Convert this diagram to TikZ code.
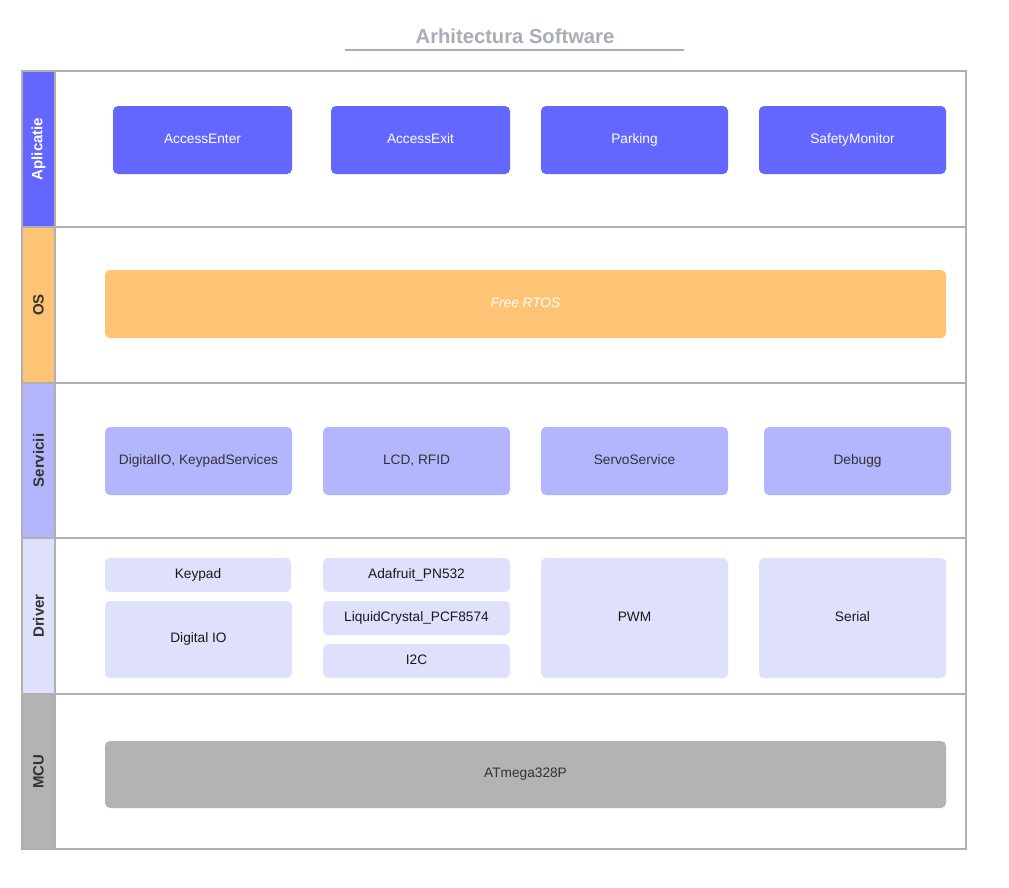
\documentclass[tikz,border=0pt]{standalone}
\usepackage{fontspec}
\setmainfont{Liberation Sans}
\begin{document}
\definecolor{appblue}{HTML}{6366FF}
\definecolor{osorange}{HTML}{FDC476}
\definecolor{srvlilac}{HTML}{B3B5FD}
\definecolor{drvlilac}{HTML}{DFE0FC}
\definecolor{mcugray}{HTML}{B3B3B3}
\definecolor{framegray}{HTML}{B0B0B0}
\definecolor{titlegray}{HTML}{A9ADB5}
\definecolor{textdark}{HTML}{333333}
\begin{tikzpicture}[x=1pt,y=-1pt,
  box/.style={rectangle,rounded corners=5pt,inner sep=0pt,outer sep=0pt,
    text height=9.8pt,text depth=3.6pt,
    font=\fontsize{13.7}{15}\selectfont},
  appbox/.style={box,fill=appblue,text=white},
  osbox/.style={box,fill=osorange,text=white,font=\fontsize{13.7}{15}\selectfont\itshape},
  srvbox/.style={box,fill=srvlilac,text=textdark},
  drvbox/.style={box,fill=drvlilac,text=black!90},
  mcubox/.style={box,fill=mcugray,text=textdark},
  lanelabel/.style={rotate=90,font=\fontsize{15}{17}\selectfont\bfseries},
  frame/.style={draw=framegray,line width=2pt}
]
\useasboundingbox[fill=white] (0,0) rectangle (1009,887);

% title
\node[font=\fontsize{20.2}{24}\selectfont\bfseries,text=titlegray] (title) at (515,36) {Arhitectura Software};
\draw[titlegray,line width=2pt] (345,50) -- (684,50);

% lane strips
\fill[appblue]  (22,71)  rectangle (55,227);
\fill[osorange] (22,227) rectangle (55,383);
\fill[srvlilac] (22,383) rectangle (55,538);
\fill[drvlilac] (22,538) rectangle (55,694);
\fill[mcugray]  (22,694) rectangle (55,849);

\node[lanelabel,text=white]    (lApp) at (38.5,149) {Aplicatie};
\node[lanelabel,text=textdark] (lOS)  at (38.5,305) {OS};
\node[lanelabel,text=textdark] (lSrv) at (38.5,460.5) {Servicii};
\node[lanelabel,text=textdark] (lDrv) at (38.5,616) {Driver};
\node[lanelabel,text=textdark] (lMcu) at (38.5,771.5) {MCU};

% lane frames
\draw[frame] (22,71) rectangle (966,849);
\draw[frame] (55,71) -- (55,849);
\foreach \yy in {227,383,538,694} \draw[frame] (22,\yy) -- (966,\yy);

% application layer
\node[appbox,minimum width=179pt,minimum height=68pt] (accEnter) at (202.5,140) {AccessEnter};
\node[appbox,minimum width=179pt,minimum height=68pt] (accExit)  at (420.5,140) {AccessExit};
\node[appbox,minimum width=187pt,minimum height=68pt] (parking)  at (634.5,140) {Parking};
\node[appbox,minimum width=187pt,minimum height=68pt] (safety)   at (852.5,140) {SafetyMonitor};

% operating system
\node[osbox,minimum width=841pt,minimum height=68pt] (rtos) at (525.5,304) {Free RTOS};

% services
\node[srvbox,minimum width=187pt,minimum height=68pt] (srvDio)   at (198.5,461) {DigitalIO, KeypadServices};
\node[srvbox,minimum width=187pt,minimum height=68pt] (srvLcd)   at (416.5,461) {LCD, RFID};
\node[srvbox,minimum width=187pt,minimum height=68pt] (srvServo) at (634.5,461) {ServoService};
\node[srvbox,minimum width=187pt,minimum height=68pt] (srvDbg)   at (857.5,461) {Debugg};

% drivers
\node[drvbox,minimum width=186pt,minimum height=34pt] (keypad)  at (198,575) {Keypad};
\node[drvbox,minimum width=187pt,minimum height=77pt] (digio)   at (198.5,639.5) {Digital IO};
\node[drvbox,minimum width=187pt,minimum height=34pt] (pn532)   at (416.5,575) {Adafruit\_PN532};
\node[drvbox,minimum width=187pt,minimum height=34pt] (lcdDrv)  at (416.5,618) {LiquidCrystal\_PCF8574};
\node[drvbox,minimum width=187pt,minimum height=34pt] (i2c)     at (416.5,661) {I2C};
\node[drvbox,minimum width=187pt,minimum height=120pt] (pwm)    at (634.5,618) {PWM};
\node[drvbox,minimum width=187pt,minimum height=120pt] (serial) at (852.5,618) {Serial};

% microcontroller
\node[mcubox,minimum width=841pt,minimum height=67pt] (mcu) at (525.5,774.5) {ATmega328P};
\end{tikzpicture}
\end{document}
